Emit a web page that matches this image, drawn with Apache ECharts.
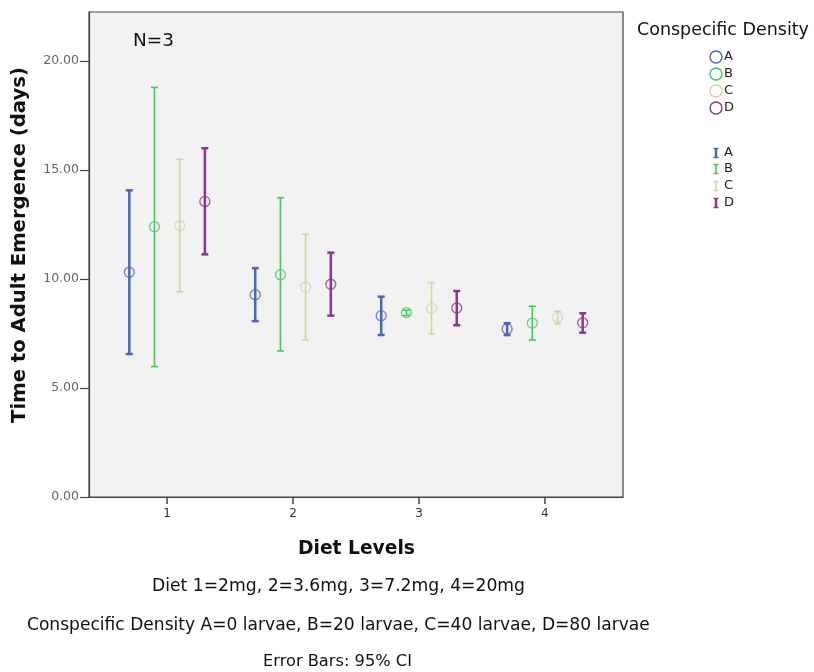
<!DOCTYPE html>
<html><head><meta charset="utf-8">
<script src="https://cdn.jsdelivr.net/npm/echarts@6/dist/echarts.min.js"></script>
<style>html,body{margin:0;padding:0;background:#fff}#c{width:814px;height:672px}</style>
</head><body><div id="c"></div>
<script>
const dietLevels = [1, 2, 3, 4];
const densityGroups = ['A', 'B', 'C', 'D'];
const yTicks = [0, 5, 10, 15, 20];
const meanA = [10.31, 9.28, 8.32, 7.71];
const meanB = [12.40, 10.20, 8.46, 7.98];
const meanC = [12.45, 9.63, 8.65, 8.24];
const meanD = [13.56, 9.76, 8.67, 7.99];
const lowA = [6.56, 8.07, 7.43, 7.43];
const highA = [14.07, 10.50, 9.19, 7.97];
const lowB = [5.98, 6.70, 8.33, 7.20];
const highB = [18.79, 13.73, 8.57, 8.75];
const lowC = [9.42, 7.20, 7.49, 7.94];
const highC = [15.49, 12.05, 9.83, 8.52];
const lowD = [11.13, 8.32, 7.88, 7.54];
const highD = [16.00, 11.21, 9.45, 8.43];

const means = [meanA, meanB, meanC, meanD];
const lows = [lowA, lowB, lowC, lowD];
const highs = [highA, highB, highC, highD];
const colors = ['#4a66c4', '#3ecb57', '#d8d3a0', '#8b378f'];
const barWidths = [2.5, 1.6, 1.6, 2.5];
const dodge = [-0.3, -0.1, 0.1, 0.3];
const FAM = '"DejaVu Sans", Verdana, sans-serif';

// fit a font size so that the text spans a given width
const mctx = document.createElement('canvas').getContext('2d');
function fitSize(text, weight, width) {
  mctx.font = weight + ' 100px ' + FAM;
  return 100 * width / mctx.measureText(text).width;
}
function txt(text, weight, left, width, centerY, extra) {
  const fs = fitSize(text, weight, width);
  return Object.assign({ type: 'text', x: left, y: centerY, style: { text: text, font: weight + ' ' + fs.toFixed(2) + 'px ' + FAM, fill: '#111', textVerticalAlign: 'middle' } }, extra || {});
}

const series = [];
densityGroups.forEach((g, i) => {
  series.push({
    name: g + ' CI', type: 'custom', z: 2,
    data: dietLevels.map((d, k) => [d + dodge[i], lows[i][k], highs[i][k]]),
    renderItem: function (params, api) {
      const x = api.value(0);
      const p1 = api.coord([x, api.value(1)]);
      const p2 = api.coord([x, api.value(2)]);
      const hw = 3.5;
      const st = { stroke: colors[i], lineWidth: barWidths[i], fill: null };
      return { type: 'group', children: [
        { type: 'line', shape: { x1: p1[0], y1: p1[1], x2: p2[0], y2: p2[1] }, style: st },
        { type: 'line', shape: { x1: p1[0] - hw, y1: p1[1], x2: p1[0] + hw, y2: p1[1] }, style: st },
        { type: 'line', shape: { x1: p2[0] - hw, y1: p2[1], x2: p2[0] + hw, y2: p2[1] }, style: st }
      ]};
    }
  });
  series.push({
    name: g, type: 'scatter', z: 3, symbol: 'circle', symbolSize: 10,
    itemStyle: { color: 'transparent', borderColor: colors[i], borderWidth: 1.3 },
    data: dietLevels.map((d, k) => [d + dodge[i], means[i][k]])
  });
});

const yTitle = 'Time to Adult Emergence (days)';
const yTitleSize = fitSize(yTitle, 'bold', 356);
const graphics = [
  txt('N=3', 'normal', 133, 41, 41),
  txt('Conspecific Density', 'normal', 637, 172, 30),
  txt('Diet Levels', 'bold', 298, 117, 549),
  txt('Diet 1=2mg, 2=3.6mg, 3=7.2mg, 4=20mg', 'normal', 152, 373, 587),
  txt('Conspecific Density A=0 larvae, B=20 larvae, C=40 larvae, D=80 larvae', 'normal', 27, 623, 626),
  txt('Error Bars: 95% CI', 'normal', 263, 149, 662),
  { type: 'text', x: 20, y: 245, rotation: Math.PI / 2,
    style: { text: yTitle, font: 'bold ' + yTitleSize.toFixed(2) + 'px ' + FAM, fill: '#111', textAlign: 'center', textVerticalAlign: 'middle' } }
];
const circleY = [57, 74, 91, 108];
const barY = [153, 169, 186, 203];
densityGroups.forEach((g, i) => {
  graphics.push({ type: 'circle', shape: { cx: 716, cy: circleY[i], r: 6 }, style: { fill: null, stroke: colors[i], lineWidth: 1.4 } });
  graphics.push({ type: 'text', x: 724, y: circleY[i], style: { text: g, font: '13px ' + FAM, fill: '#222', textVerticalAlign: 'middle' } });
  graphics.push({ type: 'group', children: [
    { type: 'line', shape: { x1: 716, y1: barY[i] - 4.5, x2: 716, y2: barY[i] + 4.5 }, style: { stroke: colors[i], lineWidth: barWidths[i] } },
    { type: 'line', shape: { x1: 713.5, y1: barY[i] - 4.5, x2: 718.5, y2: barY[i] - 4.5 }, style: { stroke: colors[i], lineWidth: 1.5 } },
    { type: 'line', shape: { x1: 713.5, y1: barY[i] + 4.5, x2: 718.5, y2: barY[i] + 4.5 }, style: { stroke: colors[i], lineWidth: 1.5 } }
  ]});
  graphics.push({ type: 'text', x: 724, y: barY[i], style: { text: g, font: '13px ' + FAM, fill: '#222', textVerticalAlign: 'middle' } });
});

const chart = echarts.init(document.getElementById('c'));
chart.setOption({
  animation: false,
  backgroundColor: '#fff',
  grid: { left: 89, top: 12, right: 191, bottom: 175, outerBoundsMode: 'none', containLabel: false,
          show: true, backgroundColor: '#f2f2f2', borderColor: '#444', borderWidth: 1.2 },
  xAxis: {
    type: 'value', min: 0.38, max: 4.62,
    axisLine: { show: true, lineStyle: { color: '#444', width: 1.2 } },
    axisTick: { show: true, length: 7, lineStyle: { color: '#444', width: 1.5 }, customValues: dietLevels },
    axisLabel: { customValues: dietLevels, color: '#333', fontSize: 12, fontFamily: FAM, margin: 11, formatter: v => String(v) },
    splitLine: { show: false }
  },
  yAxis: {
    type: 'value', min: 0, max: 22.25,
    axisLine: { show: true, lineStyle: { color: '#444', width: 1.2 } },
    axisTick: { show: true, length: 9, lineStyle: { color: '#444', width: 1.2 }, customValues: yTicks },
    axisLabel: { customValues: yTicks, color: '#666', fontSize: 12.5, fontFamily: FAM, margin: 10, formatter: v => v.toFixed(2) },
    splitLine: { show: false }
  },
  series: series,
  graphic: graphics
});
</script></body></html>
